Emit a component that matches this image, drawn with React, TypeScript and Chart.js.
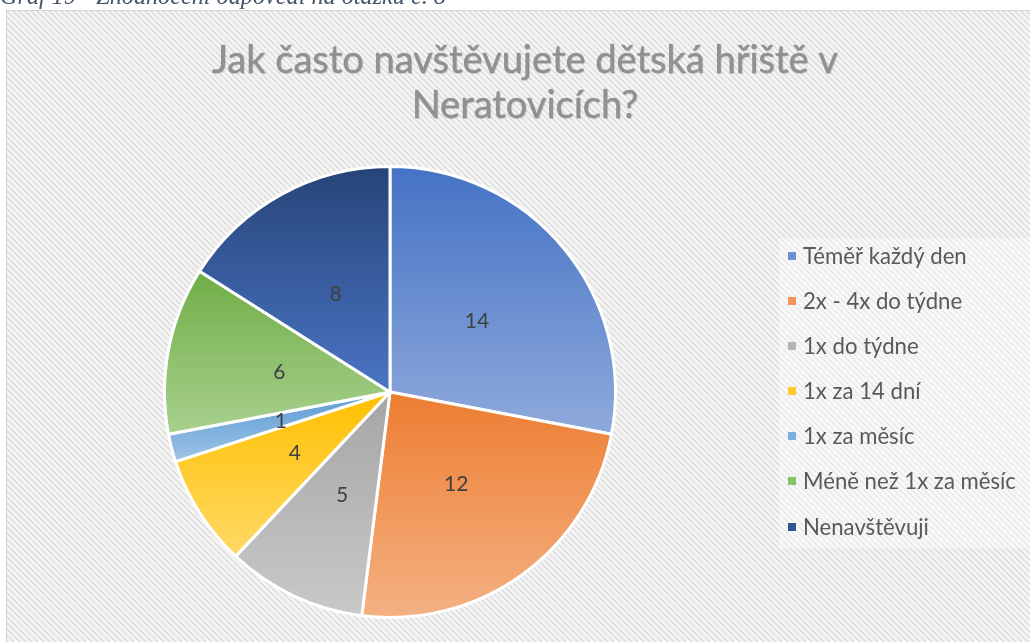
import React, { useEffect, useRef } from 'react';
import { Chart, registerables } from 'chart.js';
Chart.register(...registerables);

const categories = ['Téměř každý den', '2x - 4x do týdne', '1x do týdne', '1x za 14 dní', '1x za měsíc', 'Méně než 1x za měsíc', 'Nenavštěvuji'];
const values = [14, 12, 5, 4, 1, 6, 8];
const gradientTop = ['#4472C4', '#ED7D31', '#A5A5A5', '#FFC000', '#5B9BD5', '#70AD47', '#264478'];
const gradientBottom = ['#8FAADC', '#F4B183', '#C9C9C9', '#FFD966', '#9DC3E6', '#A9D18E', '#4A74C4'];
const legendColors = ['#6A8FD3', '#F0965A', '#B4B4B4', '#FFC933', '#7BAFE0', '#8BC06A', '#34558F'];
const titleLines = ['Jak často navštěvujete dětská hřiště v', 'Neratovicích?'];
const caption = 'Graf 19 - Zhodnocení odpovědí na otázku č. 8';

const W = 1030;
const H = 642;

function fitFont(ctx: CanvasRenderingContext2D, text: string, target: number, family: string, style: string) {
  let size = 30;
  ctx.font = `${style} ${size}px ${family}`;
  const w = ctx.measureText(text).width;
  size = size * target / w;
  return `${style} ${size.toFixed(2)}px ${family}`;
}

const decorPlugin = {
  id: 'decor',
  beforeDraw(chart: any) {
    const ctx = chart.ctx as CanvasRenderingContext2D;
    ctx.save();
    ctx.fillStyle = '#ffffff';
    ctx.fillRect(0, 0, W, H);
    // caption (cut at top)
    ctx.fillStyle = '#44546A';
    ctx.font = fitFont(ctx, caption, 446, '"Liberation Serif", serif', 'italic');
    ctx.textBaseline = 'alphabetic';
    ctx.textAlign = 'left';
    ctx.fillText(caption, 0, 4);
    // hatch area
    const bx = 6, by = 10;
    ctx.beginPath();
    ctx.rect(bx, by, W - bx + 20, H - by + 20);
    ctx.fillStyle = '#F7F7F7';
    ctx.fill();
    ctx.save();
    ctx.clip();
    ctx.strokeStyle = '#E1E1E1';
    ctx.lineWidth = 2;
    for (let k = -H; k < W + 10; k += 6) {
      ctx.beginPath();
      ctx.moveTo(k, by);
      ctx.lineTo(k + H, by + H);
      ctx.stroke();
    }
    ctx.restore();
    ctx.strokeStyle = '#D4D4D4';
    ctx.lineWidth = 1;
    ctx.strokeRect(bx + 0.5, by + 0.5, W + 20, H + 20);
    // legend background
    ctx.fillStyle = 'rgba(255,255,255,0.38)';
    ctx.fillRect(779, 238, W - 779, 310);
    // title
    ctx.textAlign = 'center';
    const tf = fitFont(ctx, titleLines[0], 626, 'Lato, sans-serif', 'normal');
    ctx.font = tf;
    const ys = [73, 118];
    titleLines.forEach((t, i) => {
      ctx.fillStyle = '#929292';
      ctx.shadowColor = 'rgba(0,0,0,0.15)';
      ctx.shadowOffsetX = 1;
      ctx.shadowOffsetY = 1;
      ctx.shadowBlur = 1;
      ctx.fillText(t, 525, ys[i]);
      ctx.shadowColor = 'transparent';
      ctx.strokeStyle = 'rgba(110,110,110,0.45)';
      ctx.lineWidth = 0.5;
      ctx.strokeText(t, 525, ys[i]);
    });
    ctx.restore();
  },
  beforeDatasetsDraw(chart: any) {
    const ctx = chart.ctx as CanvasRenderingContext2D;
    const meta = chart.getDatasetMeta(0);
    meta.data.forEach((arc: any, i: number) => {
      const { x, y, startAngle, endAngle, outerRadius } = arc;
      const ys = [y, y + Math.sin(startAngle) * outerRadius, y + Math.sin(endAngle) * outerRadius];
      [-Math.PI / 2, Math.PI / 2, 1.5 * Math.PI].forEach((a) => {
        if (a >= startAngle && a <= endAngle) ys.push(y + Math.sin(a) * outerRadius);
      });
      const minY = Math.min(...ys);
      const maxY = Math.max(...ys);
      const g = ctx.createLinearGradient(0, minY, 0, maxY);
      g.addColorStop(0, gradientTop[i]);
      g.addColorStop(1, gradientBottom[i]);
      arc.options = Object.assign({}, arc.options, { backgroundColor: g });
    });
  },
  afterDraw(chart: any) {
    const ctx = chart.ctx as CanvasRenderingContext2D;
    const meta = chart.getDatasetMeta(0);
    ctx.save();
    ctx.fillStyle = '#404040';
    ctx.font = '21px Lato, sans-serif';
    ctx.textAlign = 'center';
    ctx.textBaseline = 'middle';
    meta.data.forEach((arc: any, i: number) => {
      const p = arc.tooltipPosition(false);
      ctx.fillText(String(values[i]), p.x, p.y + 1);
    });
    // legend
    const rowY = [256, 301, 346, 391, 436, 481, 527];
    ctx.textAlign = 'left';
    ctx.fillStyle = '#595959';
    ctx.font = fitFont(ctx, categories[5], 213, 'Lato, sans-serif', 'normal');
    categories.forEach((c, i) => {
      ctx.fillStyle = legendColors[i];
      ctx.fillRect(788, rowY[i] - 4, 8, 8);
      ctx.fillStyle = '#595959';
      ctx.fillText(c, 803, rowY[i] + 1);
    });
    ctx.restore();
  },
};

export default function App() {
  const ref = useRef<HTMLCanvasElement>(null);
  useEffect(() => {
    if (!ref.current) return;
    const chart = new Chart(ref.current, {
      type: 'pie',
      data: {
        labels: categories,
        datasets: [
          {
            data: values,
            backgroundColor: gradientTop,
            borderColor: '#ffffff',
            borderWidth: 3,
          },
        ],
      },
      options: {
        responsive: false,
        animation: false,
        events: [],
        layout: { padding: { left: 163, top: 165, right: 413, bottom: 23 } },
        plugins: {
          legend: { display: false },
          title: { display: false },
          tooltip: { enabled: false },
        },
      },
      plugins: [decorPlugin],
    });
    return () => chart.destroy();
  }, []);
  return (
    <div style={{ position: 'fixed', left: 0, top: 0, width: W, height: H }}>
      <canvas ref={ref} width={W} height={H} style={{ width: W, height: H, display: 'block' }} />
    </div>
  );
}
